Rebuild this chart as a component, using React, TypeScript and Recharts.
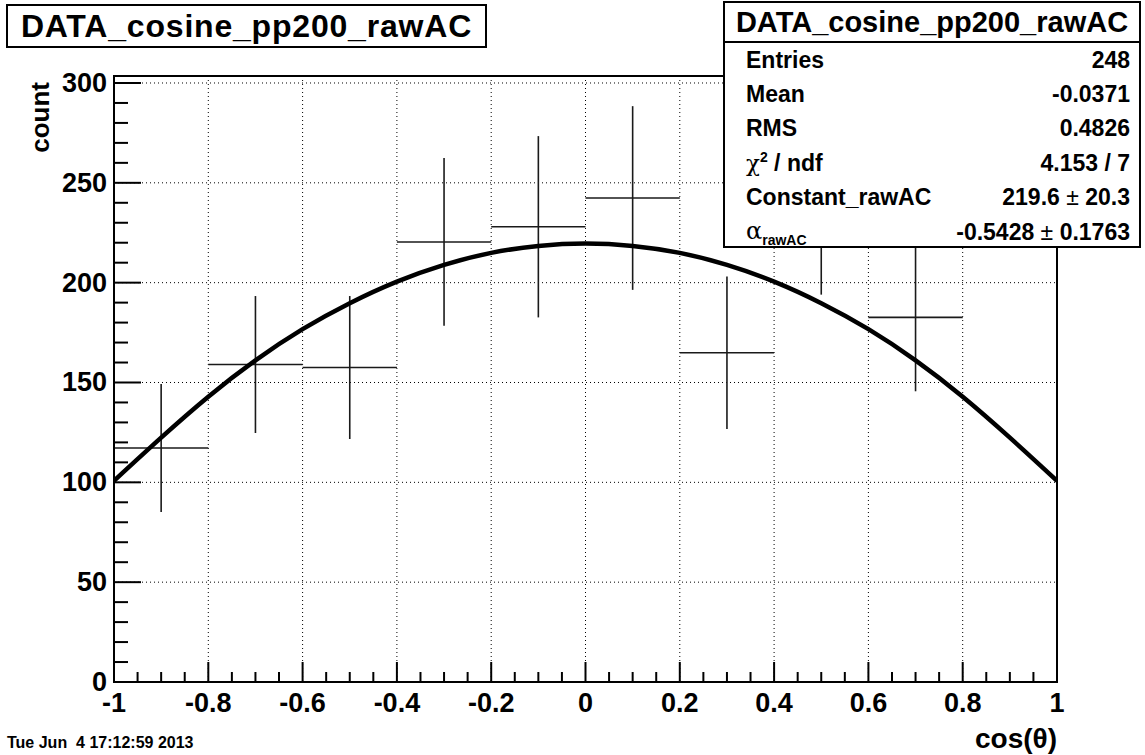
import React from "react";
import {
  ComposedChart,
  Line,
  Scatter,
  ErrorBar,
  XAxis,
  YAxis,
  CartesianGrid,
} from "recharts";

// ---- data ----
const binCenters = [-0.9, -0.7, -0.5, -0.3, -0.1, 0.1, 0.3, 0.5, 0.7, 0.9];
const binCounts: (number | null)[] = [117.2, 159.0, 157.5, 220.4, 228.0, 242.4, 164.9, 235.0, 182.6, null];
const binErrors: (number | null)[] = [32.0, 34.3, 35.8, 42.0, 45.4, 46.0, 38.2, 41.0, 37.0, null];
const binWidth = 0.2;

const fitX = [-1, -0.9, -0.8, -0.7, -0.6, -0.5, -0.4, -0.3, -0.2, -0.1, 0, 0.1, 0.2, 0.3, 0.4, 0.5, 0.6, 0.7, 0.8, 0.9, 1];
const fitY = [100.8, 122.4, 142.9, 161.1, 176.7, 189.7, 200.5, 208.9, 214.9, 218.4, 219.6, 218.4, 214.9, 208.9, 200.5, 189.7, 176.7, 161.1, 142.9, 122.4, 100.8];

const xMajorTicks = [-1, -0.8, -0.6, -0.4, -0.2, 0, 0.2, 0.4, 0.6, 0.8, 1];
const xTickLabels = ["-1", "-0.8", "-0.6", "-0.4", "-0.2", "0", "0.2", "0.4", "0.6", "0.8", "1"];
const yMajorTicks = [0, 50, 100, 150, 200, 250, 300];
const yTickLabels = ["0", "50", "100", "150", "200", "250", "300"];
const yDomainMax = 303.5;

const titleText = "DATA_cosine_pp200_rawAC";
const statsRows: { label: React.ReactNode; value: React.ReactNode }[] = [
  { label: "Entries", value: "248" },
  { label: "Mean", value: "-0.0371" },
  { label: "RMS", value: "0.4826" },
  {
    label: (
      <span>
        <span style={{ fontWeight: "normal", fontFamily: "DejaVu Serif, serif" }}>χ</span>
        <sup style={{ fontSize: 14 }}>2</sup> / ndf
      </span>
    ),
    value: "4.153 / 7",
  },
  {
    label: "Constant_rawAC",
    value: (
      <span>
        219.6<span style={{ fontWeight: "normal" }}> ± </span>20.3
      </span>
    ),
  },
  {
    label: (
      <span>
        <span style={{ fontWeight: "normal", fontFamily: "DejaVu Serif, serif", fontSize: 24 }}>α</span>
        <sub style={{ fontSize: 14 }}>rawAC</sub>
      </span>
    ),
    value: (
      <span>
        -0.5428<span style={{ fontWeight: "normal" }}> ± </span>0.1763
      </span>
    ),
  },
];
const dateText = "Tue Jun  4 17:12:59 2013";
const xTitle = "cos(θ)";
const yTitle = "count";

// ---- derived tables ----
const points = binCenters
  .map((x, i) => ({ x, y: binCounts[i], yerr: binErrors[i], xerr: binWidth / 2 }))
  .filter((p) => p.y !== null);
const curve = fitX.map((x, i) => ({ x, fy: fitY[i] }));

function subdivide(majors: number[], n: number): number[] {
  const out: number[] = [];
  for (let i = 0; i < majors.length - 1; i++) {
    const a = majors[i];
    const b = majors[i + 1];
    for (let k = 0; k < n; k++) out.push(Math.round((a + ((b - a) * k) / n) * 1000) / 1000);
  }
  out.push(majors[majors.length - 1]);
  return out;
}
const xTicks = subdivide(xMajorTicks, 4);
const yTicks = subdivide(yMajorTicks, 5);

const FONT = "Liberation Sans, Arial, Helvetica, sans-serif";

const isMajor = (v: number, majors: number[]) => majors.findIndex((m) => Math.abs(m - v) < 1e-6);

const YTick = (props: any) => {
  const { x, y, payload } = props;
  const idx = isMajor(payload.value, yMajorTicks);
  const major = idx >= 0;
  return (
    <g>
      <line x1={x} x2={x + (major ? 27 : 14)} y1={y} y2={y} stroke="#000" strokeWidth={2} />
      {major && (
        <text
          x={x - 7}
          y={y}
          textAnchor="end"
          dominantBaseline="central"
          fontFamily={FONT}
          fontWeight="bold"
          fontSize={27}
          fill="#000"
        >
          {yTickLabels[idx]}
        </text>
      )}
    </g>
  );
};

const XTick = (props: any) => {
  const { x, y, payload } = props;
  const idx = isMajor(payload.value, xMajorTicks);
  const major = idx >= 0;
  return (
    <g>
      <line x1={x} x2={x} y1={y} y2={y - (major ? 20 : 10)} stroke="#000" strokeWidth={2} />
      {major && (
        <text
          x={x}
          y={y + 21}
          textAnchor="middle"
          dominantBaseline="central"
          fontFamily={FONT}
          fontWeight="bold"
          fontSize={27}
          fill="#000"
        >
          {xTickLabels[idx]}
        </text>
      )}
    </g>
  );
};

const PLOT = { left: 114, top: 76, right: 1057, bottom: 682 };

export default function App() {
  return (
    <div
      style={{
        position: "absolute",
        left: 0,
        top: 0,
        width: 1145,
        height: 755,
        background: "#fff",
        fontFamily: FONT,
        overflow: "hidden",
      }}
    >
      <ComposedChart
        width={1145}
        height={755}
        margin={{ top: PLOT.top, right: 1145 - PLOT.right, bottom: 755 - PLOT.bottom - 30, left: PLOT.left - 60 }}
      >
        <CartesianGrid
          stroke="#000"
          strokeWidth={1}
          strokeDasharray="1 3"
          horizontalValues={yMajorTicks.slice(1)}
          verticalValues={xMajorTicks.slice(1, -1)}
        />
        <XAxis
          dataKey="x"
          type="number"
          domain={[-1, 1]}
          ticks={xTicks}
          interval={0}
          tick={<XTick />}
          tickLine={false}
          axisLine={false}
          tickSize={0}
          tickMargin={0}
          height={30}
          allowDataOverflow
        />
        <YAxis
          type="number"
          domain={[0, yDomainMax]}
          ticks={yTicks}
          interval={0}
          tick={<YTick />}
          tickLine={false}
          axisLine={false}
          tickSize={0}
          tickMargin={0}
          width={60}
          allowDataOverflow
        />
        <Scatter data={points} dataKey="y" isAnimationActive={false} shape={() => <g />}>
          <ErrorBar dataKey="yerr" direction="y" width={0} stroke="#1a1a1a" strokeWidth={1.6} isAnimationActive={false} />
          <ErrorBar dataKey="xerr" direction="x" width={0} stroke="#1a1a1a" strokeWidth={1.6} isAnimationActive={false} />
        </Scatter>
        <Line
          data={curve}
          dataKey="fy"
          type="natural"
          stroke="#000"
          strokeWidth={4.5}
          dot={false}
          activeDot={false}
          isAnimationActive={false}
        />
      </ComposedChart>

      {/* plot frame */}
      <div
        style={{
          position: "absolute",
          left: PLOT.left - 1,
          top: PLOT.top - 1,
          width: PLOT.right - PLOT.left + 2,
          height: PLOT.bottom - PLOT.top + 2,
          border: "2px solid #000",
          boxSizing: "border-box",
          pointerEvents: "none",
        }}
      />

      {/* axis titles */}
      <svg
        width={1145}
        height={755}
        style={{ position: "absolute", left: 0, top: 0, pointerEvents: "none" }}
      >
        <text
          x={49}
          y={82}
          transform="rotate(-90, 49, 82)"
          textAnchor="end"
          fontFamily={FONT}
          fontWeight="bold"
          fontSize={26}
          fill="#000"
        >
          {yTitle}
        </text>
        <text
          x={PLOT.right}
          y={748}
          textAnchor="end"
          fontFamily={FONT}
          fontWeight="bold"
          fontSize={28}
          fill="#000"
        >
          {xTitle}
        </text>
        <text
          x={7}
          y={748}
          fontFamily={FONT}
          fontWeight="bold"
          fontSize={16}
          fill="#000"
          style={{ whiteSpace: "pre" }}
        >
          {dateText}
        </text>
      </svg>

      {/* title box */}
      <div
        style={{
          position: "absolute",
          left: 6,
          top: 4,
          width: 481,
          height: 44,
          border: "2px solid #000",
          boxSizing: "border-box",
          background: "#fff",
          display: "flex",
          alignItems: "center",
          justifyContent: "center",
          fontWeight: "bold",
          fontSize: 32,
          letterSpacing: 0.8,
          whiteSpace: "nowrap",
        }}
      >
        {titleText}
      </div>

      {/* stats box */}
      <div
        style={{
          position: "absolute",
          left: 723,
          top: 1,
          width: 418,
          height: 247,
          border: "2px solid #000",
          boxSizing: "border-box",
          background: "#fff",
          fontWeight: "bold",
        }}
      >
        <div
          style={{
            height: 38,
            borderBottom: "2px solid #000",
            display: "flex",
            alignItems: "center",
            justifyContent: "center",
            fontSize: 29,
            whiteSpace: "nowrap",
          }}
        >
          {titleText}
        </div>
        {statsRows.map((r, i) => (
          <div
            key={i}
            style={{
              height: 34.4,
              display: "flex",
              alignItems: "center",
              justifyContent: "space-between",
              paddingLeft: 21,
              paddingRight: 9,
              fontSize: 23,
              whiteSpace: "nowrap",
            }}
          >
            <span>{r.label}</span>
            <span>{r.value}</span>
          </div>
        ))}
      </div>
    </div>
  );
}
